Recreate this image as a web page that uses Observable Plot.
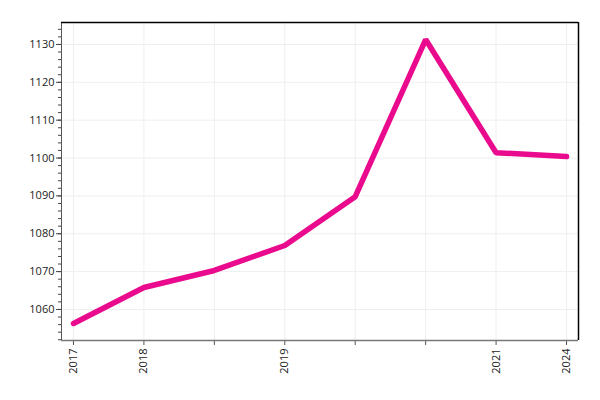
<!DOCTYPE html>
<html><head><meta charset="utf-8">
<script src="https://cdn.jsdelivr.net/npm/d3@7"></script>
<script src="https://cdn.jsdelivr.net/npm/@observablehq/plot@0.6"></script>
<style>body{margin:0;background:#fff}</style>
</head><body><div id="chart"></div>
<script>
const xLabels = ["2017","2018","","2019","","","2021","2024"];
const values = [1056.3,1065.8,1070.3,1076.9,1089.8,1131.3,1101.4,1100.4];
const yMajor = [1060,1070,1080,1090,1100,1110,1120,1130];
const yMinor = d3.range(1052,1136,2);
const data = values.map((v,i)=>({i, v}));
const idx = d3.range(xLabels.length);
const xDom = [-0.17, 7.17];
const yDom = [1051.8, 1135.8];
const chart = Plot.plot({
  width:600, height:400, marginLeft:61, marginRight:22, marginTop:22, marginBottom:60,
  style:{fontFamily:"'Open Sans', sans-serif", fontSize:"11px", color:"#222", background:"#fff"},
  x:{type:"linear", domain:xDom, axis:null},
  y:{domain:yDom, axis:null},
  marks:[
    Plot.gridX(idx, {stroke:"#efefef", strokeOpacity:1}),
    Plot.gridY(yMajor, {stroke:"#efefef", strokeOpacity:1}),
    Plot.axisY(yMinor, {tickSize:3, tickFormat:()=>"", label:null, stroke:"#444", strokeOpacity:1}),
    Plot.axisY(yMajor, {tickSize:5, tickPadding:2, label:null, stroke:"#444", strokeOpacity:1, tickFormat:d=>String(d)}),
    Plot.axisX(idx, {tickSize:5, tickPadding:3, tickRotate:-90, label:null, stroke:"#555", strokeOpacity:1, tickFormat:i=>xLabels[i]}),
    Plot.ruleX([xDom[0]], {stroke:"#555"}),
    Plot.ruleY([yDom[0]], {stroke:"#777", strokeWidth:1.5}),
    Plot.ruleY([yDom[1]], {stroke:"#000", strokeWidth:1.5}),
    Plot.ruleX([xDom[1]], {stroke:"#000", strokeWidth:1.5}),
    Plot.lineY(data, {x:"i", y:"v", stroke:"#ea0a8e", strokeWidth:5.5, strokeLinejoin:"miter"})
  ]
});
document.getElementById("chart").append(chart);
</script>
</body></html>
